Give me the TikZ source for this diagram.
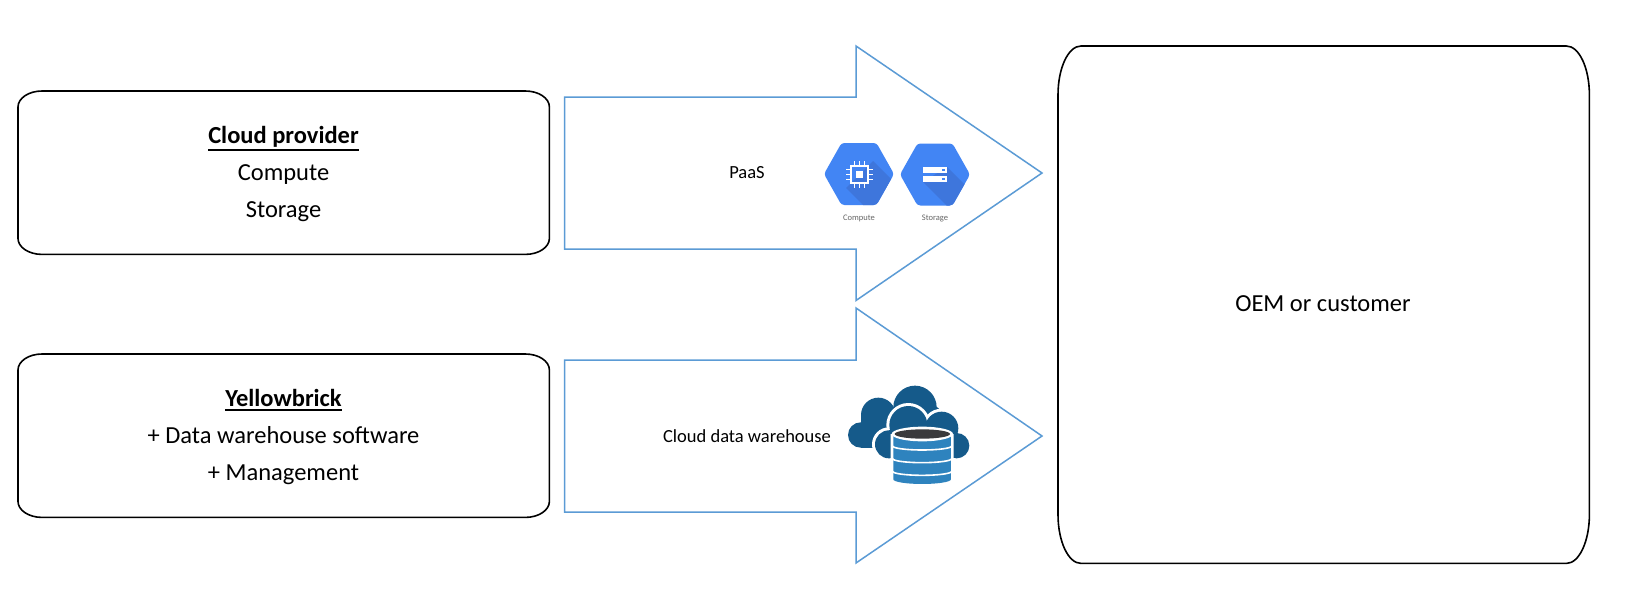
\documentclass[tikz,border=0pt]{standalone}
\usepackage{fontspec}
\setmainfont{Carlito}
\usetikzlibrary{calc}
\definecolor{arrowblue}{HTML}{5B9BD5}
\definecolor{gblue}{HTML}{4285F4}
\definecolor{gdark}{HTML}{3E76DC}
\definecolor{cloudblue}{HTML}{155A8A}
\definecolor{dbblue}{HTML}{2E83BE}
\definecolor{dbtop}{HTML}{3A3A3C}
\definecolor{txtgray}{HTML}{666666}
\tikzset{
  panel/.style={inner sep=0pt,anchor=north west},
  panelline/.style={draw=black,line width=1.6pt},
  bigarrow/.style={draw=arrowblue,line width=1.5pt,line join=miter,fill=white},
  maintext/.style={font=\fontsize{24.5}{36.6}\selectfont,align=center,text=black,inner sep=0pt},
  smalltext/.style={font=\fontsize{18.5}{22}\selectfont,text=black,inner sep=0pt},
  icontext/.style={font=\fontsize{8.5}{10}\selectfont,text=txtgray,inner sep=0pt},
}
\newcommand{\ellbox}[3]{% node name, rx, ry
  \draw[panelline] ($(#1.north west)+(#2,0)$) -- ($(#1.north east)+(-#2,0)$)
    arc[start angle=90,end angle=0,x radius=#2pt,y radius=#3pt]
    -- ($(#1.south east)+(0,-#3)$)
    arc[start angle=0,end angle=-90,x radius=#2pt,y radius=#3pt]
    -- ($(#1.south west)+(#2,0)$)
    arc[start angle=-90,end angle=-180,x radius=#2pt,y radius=#3pt]
    -- ($(#1.north west)+(0,#3)$)
    arc[start angle=180,end angle=90,x radius=#2pt,y radius=#3pt] -- cycle;
}
\newcommand{\hexpath}[2]{(#1-35,#2) -- (#1-17.5,#2-31) -- (#1+17.5,#2-31) -- (#1+35,#2) -- (#1+17.5,#2+31) -- (#1-17.5,#2+31) -- cycle}
\newcommand{\boldul}[1]{\leavevmode\vtop{\hbox{\textbf{#1}}\kern1.6pt\hrule height 2pt}}
\begin{document}
\begin{tikzpicture}[x=1pt,y=-1pt]
\useasboundingbox (0,0) rectangle (1636,611);
\node[panel,minimum width=531pt,minimum height=163pt] (cloudbox) at (18,91) {};
\node[panel,minimum width=531pt,minimum height=163pt] (ybbox) at (18,354) {};
\node[panel,minimum width=531pt,minimum height=517pt] (oem) at (1058,46) {};
\ellbox{cloudbox}{24}{16}
\ellbox{ybbox}{24}{16}
\ellbox{oem}{23}{49}
\node[maintext] (cloudtext) at (283.5,174) {\boldul{Cloud provider}\\Compute\\Storage};
\node[maintext] (ybtext) at (283.5,437) {\boldul{Yellowbrick}\\+ Data warehouse software\\+ Management};
\node[maintext] (oemtext) at (1323,303.5) {OEM or customer};
\draw[bigarrow] (564.5,97) -- (856,97) -- (856,46) -- (1042,173) -- (856,300.5) -- (856,249) -- (564.5,249) -- cycle;
\draw[bigarrow] (564.5,360) -- (856,360) -- (856,308) -- (1042,436) -- (856,563) -- (856,512) -- (564.5,512) -- cycle;
\node[smalltext] (paas) at (747,173) {PaaS};
\node[smalltext] (cdw) at (747,436) {Cloud data warehouse};
% compute icon
\begin{scope}
\clip[rounded corners=3pt] \hexpath{859}{174};
\fill[gblue] (820,140) rectangle (900,210);
\fill[gdark] (873,161) -- (900,188) -- (900,210) -- (868,210) -- (846,188) -- cycle;
\end{scope}
\draw[white,line width=2.4pt] (851,166) rectangle (868,183);
\fill[white] (856,171) rectangle (863,178);
\foreach \d in {-5,0,5}{
  \draw[white,line width=1.6pt] (859.5+\d,161) -- (859.5+\d,166);
  \draw[white,line width=1.6pt] (859.5+\d,183) -- (859.5+\d,188);
  \draw[white,line width=1.6pt] (846,174.5+\d) -- (851,174.5+\d);
  \draw[white,line width=1.6pt] (868,174.5+\d) -- (873,174.5+\d);
}
\node[icontext] (clabel) at (859,218) {Compute};
% storage icon
\begin{scope}
\clip[rounded corners=3pt] \hexpath{935}{174.5};
\fill[gblue] (896,140) rectangle (975,210);
\fill[gdark] (947,167) -- (975,195) -- (975,210) -- (951,210) -- (923,182) -- cycle;
\end{scope}
\fill[white] (923,167) rectangle (947,173);
\fill[white] (923,176) rectangle (947,182);
\fill[gblue] (941.5,168.8) rectangle (944.5,171.2);
\fill[gblue] (941.5,177.8) rectangle (944.5,180.2);
\node[icontext] (slabel) at (935,218) {Storage};
% cloud database icon (coordinates in 1/3 px from 840,380)
\begin{scope}[shift={(840,380)},x=0.3333pt,y=-0.3333pt]
  % back cloud
  \fill[cloudblue] (62,165) circle[radius=38pt/3];
  \fill[cloudblue] (115,105) circle[radius=52pt/3];
  \fill[cloudblue] (225,82) circle[radius=65pt/3];
  \fill[cloudblue] (270,110) circle[radius=36pt/3];
  \fill[cloudblue] (62,100) rectangle (270,203);
  % halo of front cloud
  \fill[white] (147,193) circle[radius=51pt/3];
  \fill[white] (205,135) circle[radius=66pt/3];
  \fill[white] (305,145) circle[radius=59pt/3];
  \fill[white] (350,197) circle[radius=47pt/3];
  \fill[white] (147,150) rectangle (350,244);
  % front cloud
  \fill[cloudblue] (147,193) circle[radius=42pt/3];
  \fill[cloudblue] (205,135) circle[radius=57pt/3];
  \fill[cloudblue] (305,145) circle[radius=50pt/3];
  \fill[cloudblue] (350,197) circle[radius=38pt/3];
  \fill[cloudblue] (147,150) rectangle (350,235);
  % cylinder halo
  \fill[white] (152,162) -- (341,162) -- (341,298) arc[start angle=0,end angle=-180,x radius=94.5pt/3,y radius=22pt/3] -- cycle;
  % cylinder body
  \fill[dbblue] (160,162) -- (333,162) -- (333,298) arc[start angle=0,end angle=-180,x radius=86.5pt/3,y radius=14pt/3] -- cycle;
  % bands
  \foreach \yy in {198,236,274}{
    \draw[white,line width=1.6pt] (158,\yy) arc[start angle=180,end angle=360,x radius=88.5pt/3,y radius=12pt/3];
  }
  % lid
  \fill[white] (247,162) ellipse[x radius=92pt/3,y radius=22pt/3];
  \fill[dbtop] (247,162) ellipse[x radius=83pt/3,y radius=14pt/3];
\end{scope}
\end{tikzpicture}
\end{document}
